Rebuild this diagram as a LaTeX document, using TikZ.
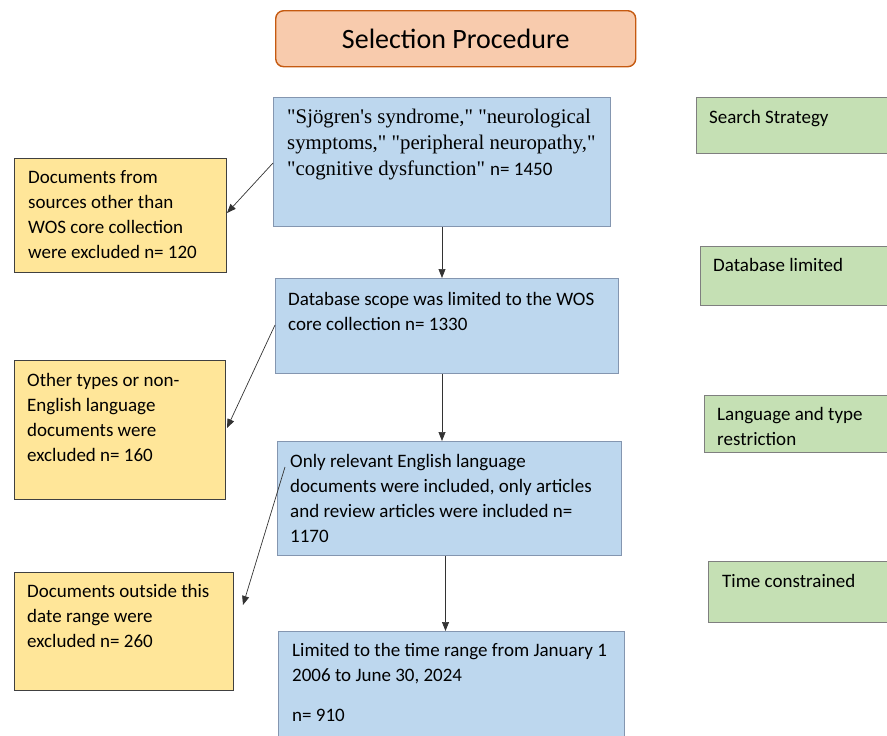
\documentclass[tikz,border=0pt]{standalone}
\usepackage{fontspec}
\setmainfont{Carlito}
\newfontfamily\timesfont{Liberation Serif}
\usepackage{tikz}
\usetikzlibrary{positioning,arrows.meta,calc}
\definecolor{titlefill}{HTML}{F8CBAD}
\definecolor{titledraw}{HTML}{C55A11}
\definecolor{stepfill}{HTML}{BDD7EE}
\definecolor{stepdraw}{HTML}{8496B0}
\definecolor{exclfill}{HTML}{FFE699}
\definecolor{excldraw}{HTML}{404040}
\definecolor{tagfill}{HTML}{C5E0B4}
\definecolor{tagdraw}{HTML}{7F7F7F}

\begin{document}
\begin{tikzpicture}[x=1pt,y=-1pt,every node/.style={font=\fontsize{19}{25}\selectfont}]
      \tikzstyle{blk}=[draw,inner sep=0pt,anchor=north west,line width=1pt];
      \tikzstyle{sb} =[blk,fill=stepfill,draw=stepdraw];
      \tikzstyle{xb} =[blk,fill=exclfill,draw=excldraw];
      \tikzstyle{tb} =[blk,fill=tagfill,draw=tagdraw];
      \tikzstyle{txt}=[anchor=north west,align=left,inner sep=0pt];
      \tikzstyle{arr}=[-{Triangle[length=9pt,width=7pt]},line width=0.7pt,draw=black!80];
      \useasboundingbox (0,0) rectangle (887,736);
      % title
      \node[blk,fill=titlefill,draw=titledraw,rounded corners=8pt,line width=1.4pt,
            minimum width=360pt,minimum height=56pt] (title) at (275,10) {};
      \node[font=\fontsize{28}{32}\selectfont] (titletxt) at (title.center) {Selection Procedure};
      % main steps
      \node[sb,minimum width=337pt,minimum height=129pt] (q) at (273,97) {};
      \node[txt,font=\fontsize{20.8}{26}\timesfont] (qtxt) at (287,109)
        {"Sjögren's syndrome," "neurological\\
         symptoms," "peripheral neuropathy,"\\
         "cognitive dysfunction" {\fontsize{19}{26}\rmfamily n= 1450}};
      \node[sb,minimum width=343pt,minimum height=95pt] (d) at (275,278) {};
      \node[txt] (dtxt) at (288,292) {Database scope was limited to the WOS\\core collection n= 1330};
      \node[sb,minimum width=344pt,minimum height=114pt] (l) at (277,441) {};
      \node[txt] (ltxt) at (290,454) {Only relevant English language\\documents were included, only articles\\and review articles were included n=\\1170};
      \node[sb,minimum width=346pt,minimum height=130pt] (t) at (278,631) {};
      \node[txt] (ttxt) at (292,643) {Limited to the time range from January 1\\2006 to June 30, 2024\\[15pt]n= 910};
      % excluded
      \node[xb,minimum width=212pt,minimum height=114pt] (x1) at (14,158) {};
      \node[txt] (x1txt) at (28,170) {Documents from\\sources other than\\WOS core collection\\were excluded n= 120};
      \node[xb,minimum width=211pt,minimum height=139pt] (x2) at (14,360) {};
      \node[txt] (x2txt) at (27,373) {Other types or non-\\English language\\documents were\\excluded n= 160};
      \node[xb,minimum width=219pt,minimum height=118pt] (x3) at (14,572) {};
      \node[txt] (x3txt) at (27,584) {Documents outside this\\date range were\\excluded n= 260};
      % side tags
      \node[tb,minimum width=200pt,minimum height=56pt] (g1) at (696,97) {};
      \node[txt] (g1txt) at (709,110) {Search Strategy};
      \node[tb,minimum width=200pt,minimum height=59pt] (g2) at (700,246) {};
      \node[txt] (g2txt) at (713,258) {Database limited};
      \node[tb,minimum width=200pt,minimum height=57pt] (g3) at (704,395) {};
      \node[txt] (g3txt) at (717,407) {Language and type\\restriction};
      \node[tb,minimum width=200pt,minimum height=61pt] (g4) at (708,561) {};
      \node[txt] (g4txt) at (722,574) {Time constrained};
      % arrows
      \coordinate (da) at ($(d.south)+(-5,0)$);
      \coordinate (la) at ($(l.south)+(-4,0)$);
      \draw[arr] (q.south) -- (q.south |- d.north);
      \draw[arr] (da) -- (da |- l.north);
      \draw[arr] (la) -- (la |- t.north);
      \draw[arr] ($(q.north west)+(0,66)$) -- ($(x1.north east)+(0,55)$);
      \draw[arr] ($(d.north west)+(0,47)$) -- ($(x2.north east)+(1,68)$);
      \draw[arr] ($(l.north west)+(8,26)$) -- ($(x3.north east)+(9,33)$);
    \end{tikzpicture}
\end{document}
